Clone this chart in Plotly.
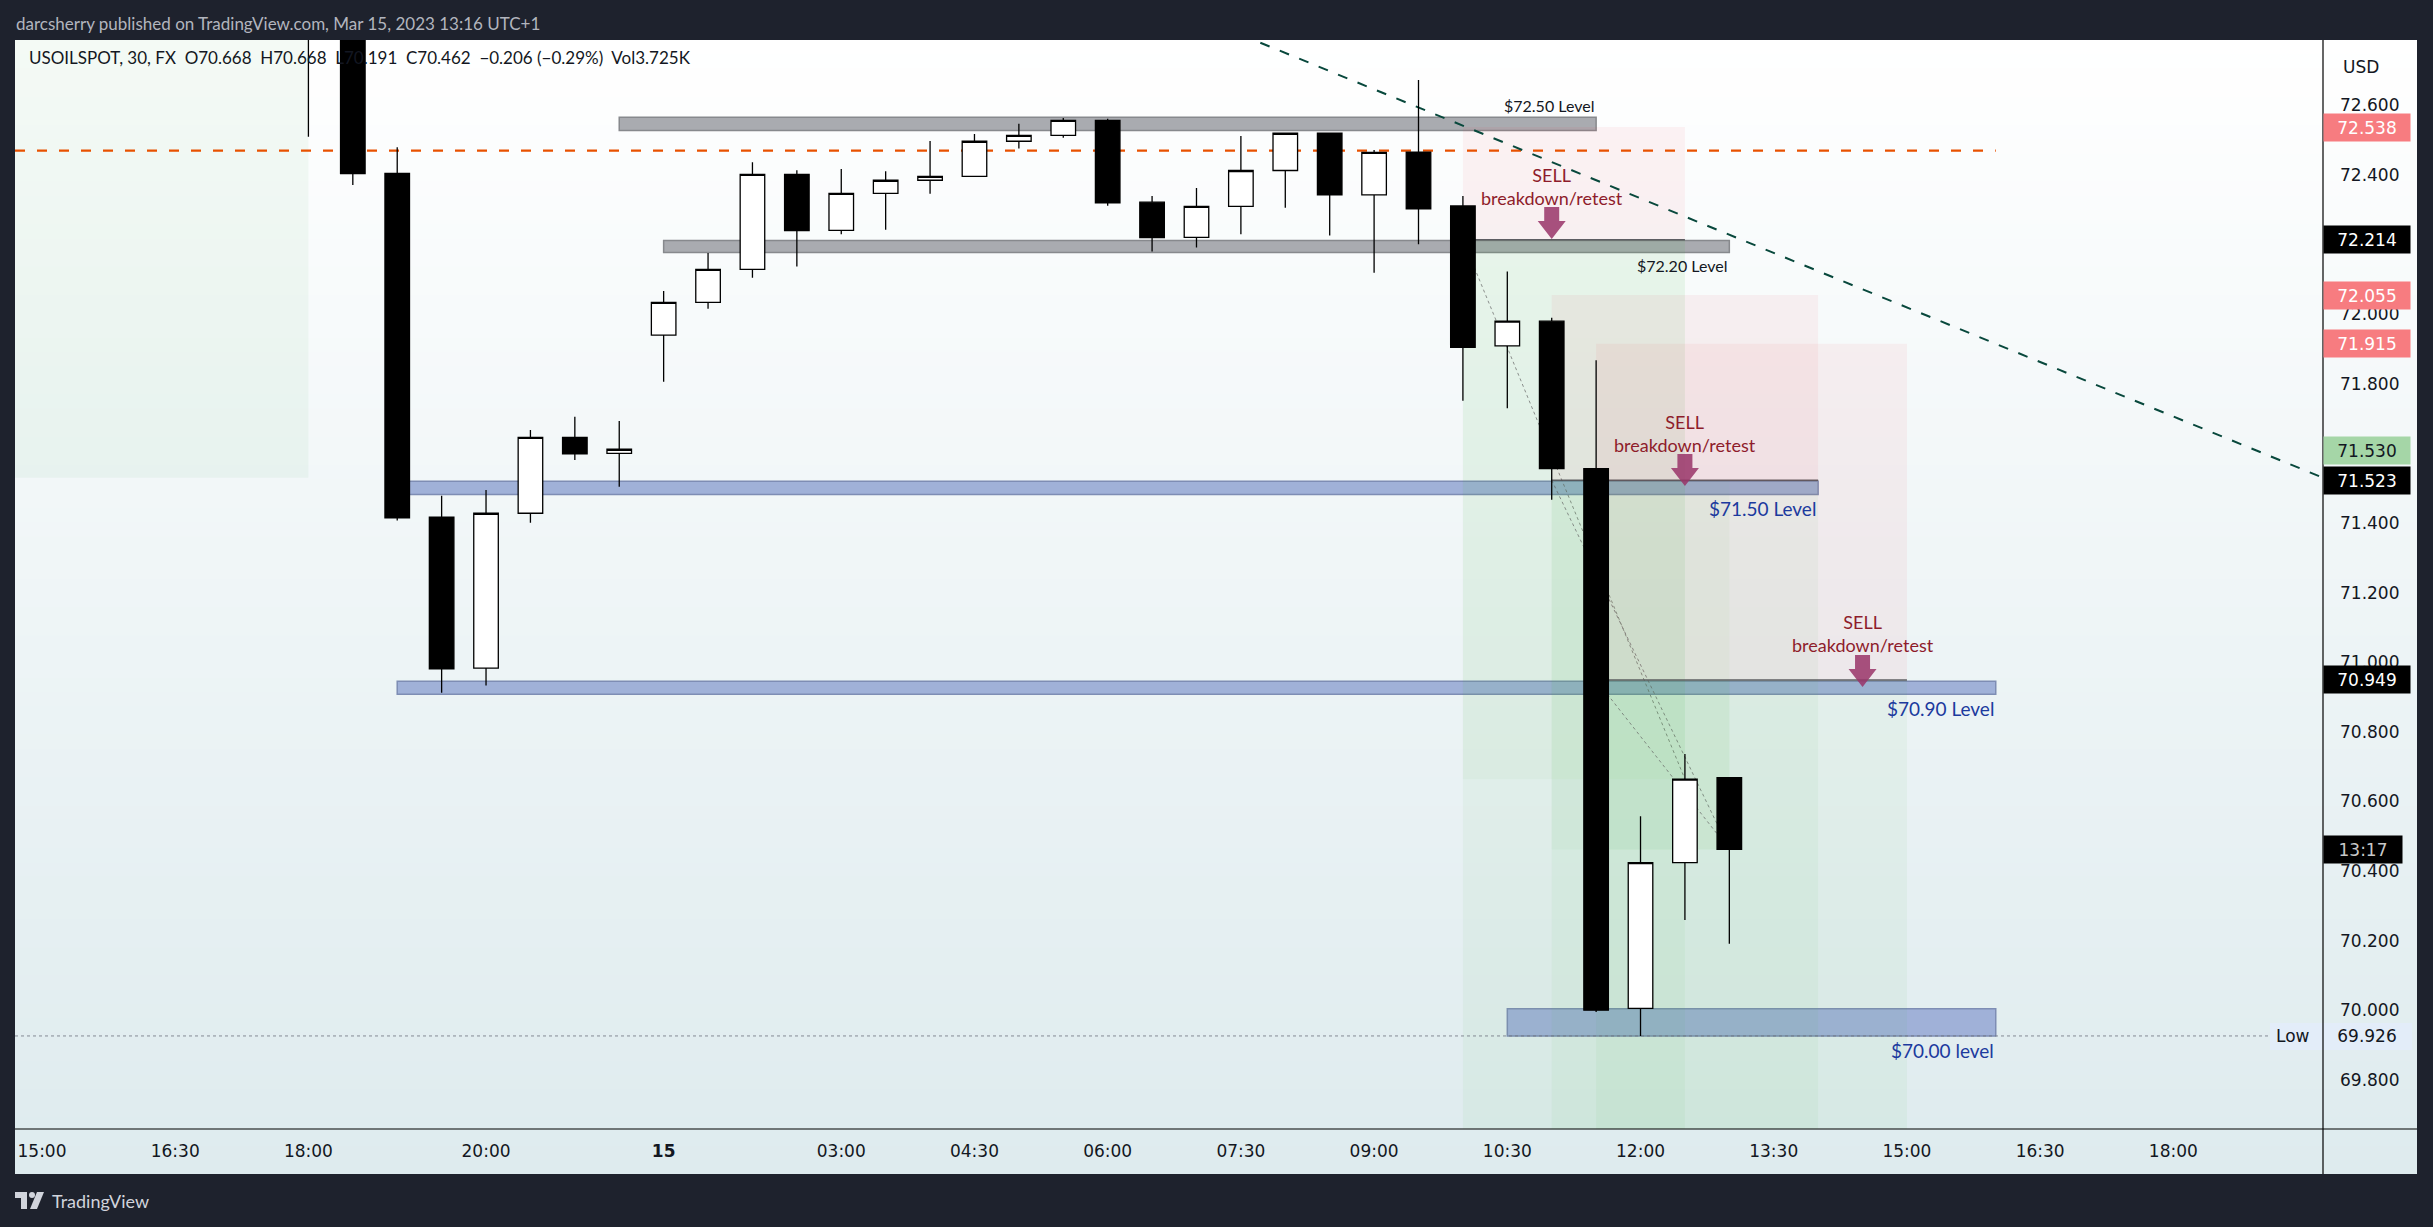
import plotly.graph_objects as go

# ---------------- data ----------------
slots = list(range(6, 39))
opens = [73.05, 72.88, 72.405, 71.417, 70.983, 71.428, 71.646, 71.600, 71.940, 72.034,
         72.129, 72.402, 72.241, 72.347, 72.385, 72.396, 72.497, 72.514, 72.557, 72.322,
         72.221, 72.310, 72.413, 72.520, 72.343, 72.466, 72.311, 71.909, 71.980, 71.556,
         70.005, 70.424, 70.668]
highs = [73.08, 72.92, 72.480, 71.478, 71.495, 71.667, 71.705, 71.693, 72.067, 72.176,
         72.437, 72.414, 72.417, 72.411, 72.498, 72.518, 72.547, 72.564, 72.562, 72.340,
         72.363, 72.512, 72.522, 72.522, 72.472, 72.673, 72.340, 72.123, 71.990, 71.868,
         70.557, 70.736, 70.668]
lows = [72.51, 72.371, 71.407, 70.912, 70.933, 71.401, 71.581, 71.504, 71.806, 72.016,
        72.105, 72.137, 72.230, 72.243, 72.346, 72.394, 72.476, 72.507, 72.312, 72.180,
        72.192, 72.230, 72.306, 72.226, 72.119, 72.201, 71.751, 71.730, 71.467, 69.995,
        69.926, 70.259, 70.191]
closes = [72.88, 72.404, 71.415, 70.981, 71.428, 71.646, 71.599, 71.612, 72.034, 72.129,
          72.402, 72.240, 72.347, 72.385, 72.396, 72.497, 72.514, 72.557, 72.320, 72.220,
          72.310, 72.413, 72.520, 72.343, 72.465, 72.303, 71.905, 71.980, 71.556, 70.000,
          70.424, 70.664, 70.462]

tick_slots = [0, 3, 6, 10, 14, 18, 21, 24, 27, 30, 33, 36, 39, 42, 45, 48]
tick_labels = ["15:00", "16:30", "18:00", "20:00", "<b>15</b>", "03:00", "04:30", "06:00",
               "07:30", "09:00", "10:30", "12:00", "13:30", "15:00", "16:30", "18:00"]
price_ticks = [69.8, 70.0, 70.2, 70.4, 70.6, 70.8, 71.0, 71.2, 71.4, 71.6, 71.8, 72.0, 72.2, 72.4, 72.6]

x_range = [-0.608, 51.37]
y_range = [69.6586, 72.788]

# horizontal zones
zone_text = ["$72.50 Level", "$72.20 Level", "$71.50 Level", "$70.90 Level", "$70.00 level"]
zone_x0 = [13, 14, 8, 8, 33]
zone_x1 = [35, 38, 40, 44, 44]
zone_lo = [72.528, 72.177, 71.482, 70.908, 69.926]
zone_hi = [72.566, 72.212, 71.520, 70.945, 70.004]
zone_kind = ["gray", "gray", "blue", "blue", "blue"]
zone_label_above = [True, False, False, False, False]

# short position tools
pos_x0 = [32, 34, 35]
pos_x1 = [37, 40, 42]
pos_entry = [72.214, 71.523, 70.949]
pos_stop = [72.538, 72.055, 71.915]
pos_target = [69.0, 69.0, 69.0]
pos_now_x = [37, 38, 38]
pos_now_price = [70.664, 70.462, 70.462]

# earlier position box (left)
left_box_x = [-1.0, 6.0]
left_box_y = [71.530, 73.2]

orange_level = 72.470
orange_end = 44
trend_x = [27.0, 51.37]
trend_y = [72.803, 71.530]
low_price = 69.926

sell_x = [34.0, 37.0, 41.0]
sell_tip = [72.216, 71.506, 70.929]

# price scale labels: (price, bg, fg, yshift)
scale_labels = [
    (72.538, "#f77c80", "#ffffff", 0),
    (72.214, "#000000", "#ffffff", 0),
    (72.055, "#f77c80", "#ffffff", 0),
    (71.915, "#f77c80", "#ffffff", 0),
    (71.530, "#a5d6a7", "#131722", 27),
    (71.523, "#000000", "#ffffff", 0),
    (70.949, "#000000", "#ffffff", 0),
]

# ---------------- geometry helpers ----------------
W, H = 2433, 1227
ML, MR, MT, MB = 15, 110, 40, 98
PW, PH = W - ML - MR, H - MT - MB
DARK = "#1e222d"


def px(xp):
    return (xp - ML) / PW


def py(yp):
    return (H - MB - yp) / PH


fig = go.Figure()

shapes = []
# background gradient over chart + scale areas
N = 80
top_c = (255, 255, 255)
bot_c = (222, 235, 238)
y_top_px, y_bot_px = 40, 1174
for i in range(N):
    t0 = i / N
    t1 = (i + 1) / N
    tm = (t0 + t1) / 2
    c = tuple(round(top_c[j] + (bot_c[j] - top_c[j]) * tm) for j in range(3))
    y0p = y_top_px + (y_bot_px - y_top_px) * t0
    y1p = min(y_bot_px, y_top_px + (y_bot_px - y_top_px) * t1 + 1.5)
    shapes.append(dict(type="rect", xref="paper", yref="paper", layer="below",
                       x0=px(15), x1=px(2417), y0=py(y0p), y1=py(y1p),
                       fillcolor="rgb(%d,%d,%d)" % c, line=dict(width=0)))

# left green box
shapes.append(dict(type="rect", xref="x", yref="y", layer="below",
                   x0=left_box_x[0], x1=left_box_x[1], y0=left_box_y[0], y1=left_box_y[1],
                   fillcolor="rgba(76,175,80,0.06)", line=dict(width=0)))

# zones
for i in range(len(zone_text)):
    if zone_kind[i] == "gray":
        fc, lc = "rgb(169,171,176)", "rgb(135,137,141)"
    else:
        fc, lc = "rgb(160,177,216)", "rgb(126,141,180)"
    shapes.append(dict(type="rect", xref="x", yref="y", layer="below",
                       x0=zone_x0[i], x1=zone_x1[i], y0=zone_lo[i], y1=zone_hi[i],
                       fillcolor=fc, line=dict(color=lc, width=1.5)))

# position tools
for i in range(3):
    shapes.append(dict(type="rect", xref="x", yref="y", layer="below",
                       x0=pos_x0[i], x1=pos_x1[i], y0=pos_entry[i], y1=pos_stop[i],
                       fillcolor="rgba(242,54,69,0.06)", line=dict(width=0)))
    shapes.append(dict(type="rect", xref="x", yref="y", layer="below",
                       x0=pos_x0[i], x1=pos_x1[i], y0=pos_target[i], y1=pos_entry[i],
                       fillcolor="rgba(76,175,80,0.055)", line=dict(width=0)))
    shapes.append(dict(type="rect", xref="x", yref="y", layer="below",
                       x0=pos_x0[i], x1=pos_now_x[i], y0=pos_now_price[i], y1=pos_entry[i],
                       fillcolor="rgba(76,175,80,0.045)", line=dict(width=0)))
    shapes.append(dict(type="line", xref="x", yref="y", layer="below",
                       x0=pos_x0[i], x1=pos_x1[i], y0=pos_entry[i], y1=pos_entry[i],
                       line=dict(color="rgba(80,80,85,0.9)", width=1.5)))
    shapes.append(dict(type="line", xref="x", yref="y", layer="below",
                       x0=pos_x0[i], x1=pos_now_x[i], y0=pos_entry[i], y1=pos_now_price[i],
                       line=dict(color="rgba(100,100,100,0.7)", width=1, dash="3px,3px")))

# orange dashed level
shapes.append(dict(type="line", xref="x", yref="y", layer="below",
                   x0=x_range[0], x1=orange_end, y0=orange_level, y1=orange_level,
                   line=dict(color="rgb(232,81,0)", width=2.2, dash="10px,12px")))
# trend line
shapes.append(dict(type="line", xref="x", yref="y", layer="below",
                   x0=trend_x[0], x1=trend_x[1], y0=trend_y[0], y1=trend_y[1],
                   line=dict(color="rgb(8,72,60)", width=2, dash="10px,11px")))
# low dotted line
shapes.append(dict(type="line", xref="x", yref="y", layer="below",
                   x0=x_range[0], x1=x_range[1], y0=low_price, y1=low_price,
                   line=dict(color="rgba(110,115,125,0.8)", width=1, dash="dot")))

# sell arrows
arrow_path = "M 0 0 L -14 18 L -7.5 18 L -7.5 32 L 7.5 32 L 7.5 18 L 14 18 Z"
for i in range(3):
    shapes.append(dict(type="path", xref="x", yref="y", layer="above",
                       xsizemode="pixel", ysizemode="pixel",
                       xanchor=sell_x[i], yanchor=sell_tip[i], path=arrow_path,
                       fillcolor="rgba(153,52,104,0.85)", line=dict(width=0)))

# low label strip (scale + plot)
shapes.append(dict(type="rect", xref="paper", yref="paper", layer="above",
                   x0=px(2270), x1=px(2412), y0=py(1050), y1=py(1023),
                   fillcolor="#e3edf9", line=dict(width=0)))
# axis line extensions
shapes.append(dict(type="line", xref="paper", yref="paper", layer="above",
                   x0=px(2323), x1=px(2323), y0=py(40), y1=py(1174),
                   line=dict(color="#000000", width=1.2)))
shapes.append(dict(type="line", xref="paper", yref="paper", layer="above",
                   x0=px(15), x1=px(2417), y0=py(1129), y1=py(1129),
                   line=dict(color="#000000", width=1.2)))

# TradingView logo glyph (bottom-left)
shapes.append(dict(type="rect", xref="paper", yref="paper", layer="above",
                   x0=px(15), x1=px(27), y0=py(1198), y1=py(1192),
                   fillcolor="#d1d4dc", line=dict(width=0)))
shapes.append(dict(type="rect", xref="paper", yref="paper", layer="above",
                   x0=px(21), x1=px(27), y0=py(1209), y1=py(1192),
                   fillcolor="#d1d4dc", line=dict(width=0)))
shapes.append(dict(type="circle", xref="paper", yref="paper", layer="above",
                   x0=px(29), x1=px(35), y0=py(1198), y1=py(1192),
                   fillcolor="#d1d4dc", line=dict(width=0)))
shapes.append(dict(type="path", xref="paper", yref="paper", layer="above",
                   path="M %f %f L %f %f L %f %f L %f %f Z" % (px(37), py(1192), px(44), py(1192),
                                                               px(37), py(1209), px(30), py(1209)),
                   fillcolor="#d1d4dc", line=dict(width=0)))

# ---------------- candles ----------------
fig.add_trace(go.Candlestick(
    x=slots, open=opens, high=highs, low=lows, close=closes,
    increasing=dict(fillcolor="#ffffff", line=dict(color="#000000", width=1.3)),
    decreasing=dict(fillcolor="#000000", line=dict(color="#000000", width=1.3)),
    whiskerwidth=0, showlegend=False, hoverinfo="skip"))

# ---------------- annotations ----------------
ann = []
FONT = "Lato, 'Open Sans', sans-serif"
AXF = "DejaVu Sans, sans-serif"

ann.append(dict(xref="paper", yref="paper", x=px(14), y=py(23), xanchor="left", yanchor="middle",
                text="darcsherry published on TradingView.com, Mar 15, 2023 13:16 UTC+1",
                showarrow=False, font=dict(family=FONT, size=17, color="#b2b5be")))
ann.append(dict(xref="paper", yref="paper", x=px(27), y=py(58), xanchor="left", yanchor="middle",
                text="USOILSPOT, 30, FX \u00a0O70.668 \u00a0H70.668 \u00a0L70.191 \u00a0C70.462 \u00a0\u22120.206 (\u22120.29%) \u00a0Vol3.725K",
                showarrow=False, font=dict(family=FONT, size=17, color="#131722")))
ann.append(dict(xref="paper", yref="paper", x=px(50), y=py(1201), xanchor="left", yanchor="middle",
                text="TradingView", showarrow=False,
                font=dict(family=FONT, size=18, color="#d1d4dc")))
ann.append(dict(xref="paper", yref="paper", x=px(2341), y=py(67), xanchor="left", yanchor="middle",
                text="USD", showarrow=False, font=dict(family=AXF, size=17, color="#131722")))

# zone labels
for i in range(len(zone_text)):
    col = "#131722" if zone_kind[i] == "gray" else "#1c3a9e"
    sz = 16 if zone_kind[i] == "gray" else 19
    if zone_label_above[i]:
        ann.append(dict(xref="x", yref="y", x=zone_x1[i], y=zone_hi[i], xanchor="right",
                        yanchor="bottom", yshift=0, text=zone_text[i], showarrow=False,
                        font=dict(family=FONT, size=sz, color=col)))
    else:
        ann.append(dict(xref="x", yref="y", x=zone_x1[i], y=zone_lo[i], xanchor="right",
                        yanchor="top", yshift=-1, text=zone_text[i], showarrow=False,
                        font=dict(family=FONT, size=sz, color=col)))

# sell labels
for i in range(3):
    ann.append(dict(xref="x", yref="y", x=sell_x[i], y=sell_tip[i], yshift=53, yanchor="middle",
                    text="SELL<br>breakdown/retest", showarrow=False,
                    font=dict(family=FONT, size=18, color="#8e1c2b")))

# price-scale labels
for (p, bg, fg, ys) in scale_labels:
    ann.append(dict(xref="paper", yref="y", x=1.0, y=p, xanchor="left", yanchor="middle",
                    yshift=ys, text="%.3f" % p, showarrow=False, width=86, height=27,
                    bgcolor=bg, borderpad=0, align="center",
                    font=dict(family=AXF, size=17, color=fg)))
ann.append(dict(xref="paper", yref="y", x=1.0, y=closes[-1], xanchor="left", yanchor="middle",
                text="13:17", showarrow=False, width=78, height=27, bgcolor="#000000",
                borderpad=0, align="center", font=dict(family=AXF, size=17, color="#c8c8c8")))
ann.append(dict(xref="paper", yref="y", x=1.0, y=low_price, xanchor="left", yanchor="middle",
                text="%.3f" % low_price, showarrow=False, width=86, height=27,
                borderpad=0, align="center", font=dict(family=AXF, size=17, color="#131722")))
ann.append(dict(xref="paper", yref="y", x=px(2312), y=low_price, xanchor="right", yanchor="middle",
                text="Low", showarrow=False, font=dict(family=AXF, size=17, color="#131722")))

fig.update_layout(
    width=W, height=H, margin=dict(l=ML, r=MR, t=MT, b=MB, pad=0),
    paper_bgcolor=DARK, plot_bgcolor="rgba(0,0,0,0)",
    shapes=shapes, annotations=ann, showlegend=False, boxgap=0.21,
    xaxis=dict(range=x_range, tickvals=tick_slots, ticktext=tick_labels, showgrid=False,
               zeroline=False, showline=False, ticks="", rangeslider=dict(visible=False),
               tickfont=dict(family=AXF, size=17, color="#131722"), ticklabelstandoff=10,
               fixedrange=True),
    yaxis=dict(range=y_range, side="right", tickvals=price_ticks,
               ticktext=["%.3f" % v for v in price_ticks], showgrid=False, zeroline=False,
               showline=False, ticks="", tickfont=dict(family=AXF, size=17, color="#131722"),
               ticklabelstandoff=16, fixedrange=True),
    hovermode=False,
)

fig.write_html("out.html", config=dict(displayModeBar=False),
               post_script="document.body.style.margin='0';document.body.style.background='#1e222d';")
